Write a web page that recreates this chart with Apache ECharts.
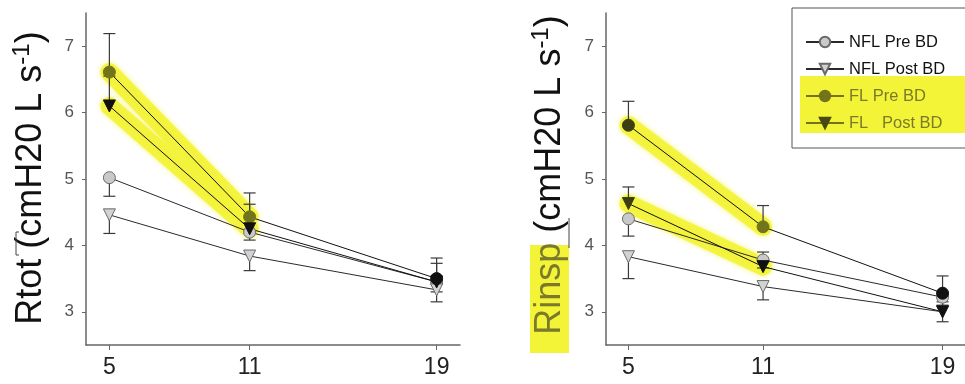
<!DOCTYPE html>
<html>
<head>
<meta charset="utf-8">
<script src="https://cdn.jsdelivr.net/npm/echarts@6/dist/echarts.min.js"></script>
<style>
  html, body { margin: 0; padding: 0; background: #fff; }
  #chart { width: 965px; height: 384px; }
</style>
</head>
<body>
<div id="chart"></div>
<script>
// Breathing frequency (Hz) on the x axis
const xValues = [5, 11, 19];
const xTicks = [5, 11, 19];
const yTicks = [3, 4, 5, 6, 7];

const seriesNames = ['NFL Pre BD', 'NFL Post BD', 'FL Pre BD', 'FL Post BD'];

// Rtot (total resistance) means and SE
const rtotNflPre = [5.02, 4.20, 3.45];
const rtotNflPost = [4.46, 3.84, 3.33];
const rtotFlPre = [6.61, 4.43, 3.50];
const rtotFlPost = [6.10, 4.25, 3.45];
const rtotNflPreErr = [0.28, 0.12, 0.15];
const rtotNflPostErr = [0.28, 0.22, 0.18];
const rtotFlPreErr = [0.58, 0.36, 0.31];
const rtotFlPostErr = [0.45, 0.37, 0.28];

// Rinsp (inspiratory resistance) means and SE
const rinspNflPre = [4.40, 3.78, 3.22];
const rinspNflPost = [3.83, 3.38, 3.00];
const rinspFlPre = [5.81, 4.28, 3.28];
const rinspFlPost = [4.63, 3.68, 3.00];
const rinspNflPreErr = [0.26, 0.12, 0.12];
const rinspNflPostErr = [0.33, 0.20, 0.15];
const rinspFlPreErr = [0.36, 0.32, 0.26];
const rinspFlPostErr = [0.25, 0.22, 0.15];

const FONT = "'Liberation Sans', Arial, sans-serif";
const OLIVE = '#72741c';
const DARK_OLIVE = '#3c3d12';
const YELLOW = '#f3f337';

const styles = {
  'NFL Pre BD':  { symbol: 'circle', fill: '#c9c9c9', stroke: '#6a6a6a', line: '#2a2a2a', errDir: -1 },
  'NFL Post BD': { symbol: 'triangle', rotate: 180, fill: '#d2d2d2', stroke: '#6a6a6a', line: '#2a2a2a', errDir: -1 },
  'FL Pre BD':   { symbol: 'circle', fill: '#111', stroke: '#111', line: '#111', errDir: 1 },
  'FL Post BD':  { symbol: 'triangle', rotate: 180, fill: '#111', stroke: '#111', line: '#111', errDir: 1 }
};

function pts(values) {
  return xValues.map((x, i) => [x, values[i]]);
}

// tint: map of point index -> marker colour for points sitting under the highlighter
function makeLine(name, values, gi, tint) {
  const st = styles[name];
  return {
    name: name,
    type: 'line',
    xAxisIndex: gi, yAxisIndex: gi,
    z: 4,
    symbol: st.symbol,
    symbolRotate: st.rotate || 0,
    symbolSize: 12,
    showSymbol: true,
    animation: false,
    lineStyle: { color: st.line, width: 1 },
    itemStyle: { color: st.fill, borderColor: st.stroke, borderWidth: 1 },
    emphasis: { disabled: true },
    data: pts(values).map((p, i) => (tint && tint[i])
      ? { value: p, itemStyle: { color: tint[i], borderColor: tint[i] } }
      : { value: p })
  };
}

function makeErr(name, values, errs, gi) {
  const dir = styles[name].errDir;
  return {
    name: name + ' SE',
    type: 'custom',
    xAxisIndex: gi, yAxisIndex: gi,
    z: 3,
    animation: false,
    silent: true,
    data: xValues.map((x, i) => [x, values[i], values[i] + dir * errs[i]]),
    renderItem: function (params, api) {
      const p0 = api.coord([api.value(0), api.value(1)]);
      const p1 = api.coord([api.value(0), api.value(2)]);
      const st = { stroke: '#3a3a3a', lineWidth: 1.2 };
      return {
        type: 'group',
        children: [
          { type: 'line', shape: { x1: p0[0], y1: p0[1], x2: p1[0], y2: p1[1] }, style: st },
          { type: 'line', shape: { x1: p1[0] - 6, y1: p1[1], x2: p1[0] + 6, y2: p1[1] }, style: st }
        ]
      };
    }
  };
}

// highlighter stroke along the first two FL points
function makeBand(values, gi) {
  return {
    name: 'band',
    type: 'line',
    xAxisIndex: gi, yAxisIndex: gi,
    z: 1,
    symbol: 'none',
    animation: false,
    silent: true,
    lineStyle: { color: YELLOW, width: 18, cap: 'round', opacity: 0.9, shadowBlur: 5, shadowColor: 'rgba(243,243,55,0.8)' },
    data: pts(values).slice(0, 2)
  };
}

function xAxisCfg(gi) {
  return {
    gridIndex: gi,
    type: 'value',
    min: 4, max: 20,
    axisLine: { show: true, onZero: false, lineStyle: { color: '#666', width: 1.5 } },
    axisTick: { show: true, length: 5, customValues: xTicks, lineStyle: { color: '#666' } },
    axisLabel: { customValues: xTicks, fontSize: 23, color: '#222', fontFamily: FONT, margin: 11 },
    splitLine: { show: false }
  };
}

function yAxisCfg(gi) {
  return {
    gridIndex: gi,
    type: 'value',
    min: 2.5, max: 7.5,
    axisLine: { show: true, onZero: false, lineStyle: { color: '#666', width: 1.5 } },
    axisTick: { show: true, length: 4, customValues: yTicks, lineStyle: { color: '#666' } },
    axisLabel: { customValues: yTicks, fontSize: 17, color: '#555', fontFamily: FONT, margin: 12 },
    splitLine: { show: false }
  };
}

const titleRich = {
  a: { fontSize: 36, fontFamily: FONT, fill: '#111', color: '#111', lineHeight: 42 },
  h: { fontSize: 36, fontFamily: FONT, fill: '#7a7a2a', color: '#7a7a2a', lineHeight: 42 },
  s: { fontSize: 24, fontFamily: FONT, fill: '#111', color: '#111', lineHeight: 42, verticalAlign: 'top', padding: [0, 0, 14, 0] }
};

const chart = echarts.init(document.getElementById('chart'), null, { renderer: 'canvas' });

chart.setOption({
  backgroundColor: '#fff',
  animation: false,
  grid: [
    { left: 86, top: 13, width: 374, height: 332 },
    { left: 606, top: 13, width: 374, height: 332 }
  ],
  xAxis: [xAxisCfg(0), xAxisCfg(1)],
  yAxis: [yAxisCfg(0), yAxisCfg(1)],
  legend: {
    orient: 'vertical',
    left: 800, top: 27,
    itemWidth: 38, itemHeight: 13, itemGap: 7,
    selectedMode: false,
    formatter: function (n) { return n === 'FL Post BD' ? 'FL   Post BD' : n; },
    textStyle: { fontSize: 16.5, fontFamily: FONT, lineHeight: 20, color: '#111' },
    data: [
      { name: 'NFL Pre BD', textStyle: { color: '#111' } },
      { name: 'NFL Post BD', textStyle: { color: '#111' } },
      { name: 'FL Pre BD', textStyle: { color: '#7a7a2a' }, itemStyle: { color: OLIVE, borderColor: OLIVE }, lineStyle: { color: OLIVE } },
      { name: 'FL Post BD', textStyle: { color: '#7a7a2a' }, itemStyle: { color: '#4a4a10', borderColor: '#4a4a10' }, lineStyle: { color: OLIVE } }
    ]
  },
  graphic: [
    // legend frame and highlight
    { type: 'rect', z: 0, shape: { x: 800, y: 76, width: 180, height: 57 }, style: { fill: YELLOW } },
    { type: 'rect', z: 0, shape: { x: 792, y: 8, width: 200, height: 140 }, style: { fill: 'none', stroke: '#555', lineWidth: 1 } },
    // highlight behind the Rinsp label
    { type: 'rect', z: 0, shape: { x: 530, y: 245, width: 39, height: 108 }, style: { fill: YELLOW } },
    // rotated axis titles
    {
      type: 'text', z: 5, x: 31, y: 178, rotation: Math.PI / 2,
      style: {
        text: '{a|Rtot (cmH20 L s}{s|-1}{a|)}',
        rich: titleRich, align: 'center', verticalAlign: 'middle'
      }
    },
    {
      type: 'text', z: 5, x: 550, y: 175, rotation: Math.PI / 2,
      style: {
        text: '{h|Rinsp}{a| (cmH20 L s}{s|-1}{a|)}',
        rich: titleRich, align: 'center', verticalAlign: 'middle'
      }
    },
    // small overline marks beside the titles
    { type: 'polyline', z: 5, shape: { points: [[19, 232], [16, 232], [16, 255], [19, 255]] }, style: { stroke: '#444', lineWidth: 1, fill: 'none' } },
    { type: 'polyline', z: 5, shape: { points: [[569, 218], [569, 248]] }, style: { stroke: '#444', lineWidth: 1, fill: 'none' } }
  ],
  series: [
    makeBand(rtotFlPre, 0),
    makeBand(rtotFlPost, 0),
    makeBand(rinspFlPre, 1),
    makeBand(rinspFlPost, 1),

    makeErr('NFL Pre BD', rtotNflPre, rtotNflPreErr, 0),
    makeErr('NFL Post BD', rtotNflPost, rtotNflPostErr, 0),
    makeErr('FL Pre BD', rtotFlPre, rtotFlPreErr, 0),
    makeErr('FL Post BD', rtotFlPost, rtotFlPostErr, 0),
    makeErr('NFL Pre BD', rinspNflPre, rinspNflPreErr, 1),
    makeErr('NFL Post BD', rinspNflPost, rinspNflPostErr, 1),
    makeErr('FL Pre BD', rinspFlPre, rinspFlPreErr, 1),
    makeErr('FL Post BD', rinspFlPost, rinspFlPostErr, 1),

    makeLine('NFL Pre BD', rtotNflPre, 0),
    makeLine('NFL Post BD', rtotNflPost, 0),
    makeLine('FL Pre BD', rtotFlPre, 0, { 0: OLIVE, 1: OLIVE }),
    makeLine('FL Post BD', rtotFlPost, 0),
    makeLine('NFL Pre BD', rinspNflPre, 1),
    makeLine('NFL Post BD', rinspNflPost, 1),
    makeLine('FL Pre BD', rinspFlPre, 1, { 0: DARK_OLIVE, 1: OLIVE }),
    makeLine('FL Post BD', rinspFlPost, 1, { 0: DARK_OLIVE })
  ]
});
</script>
</body>
</html>
